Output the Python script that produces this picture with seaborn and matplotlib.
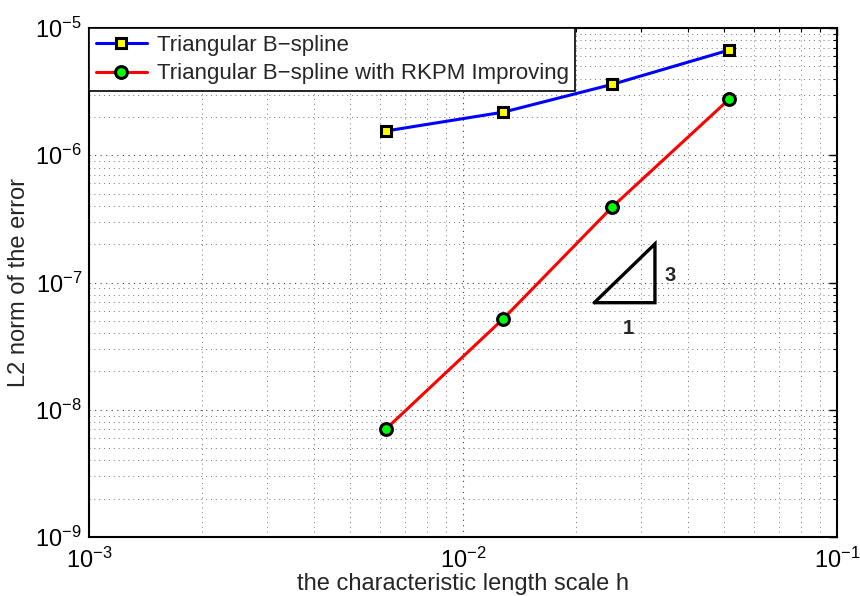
import matplotlib
matplotlib.use("Agg")
import matplotlib.pyplot as plt
import matplotlib.ticker as mticker
import seaborn as sns
import pandas as pd
import numpy as np

# ---- data ----
h = [0.00621, 0.0128, 0.0251, 0.0515]
err_bspline = [1.55e-6, 2.18e-6, 3.61e-6, 6.71e-6]
err_rkpm = [7.02e-9, 5.17e-8, 3.94e-7, 2.76e-6]
labels = ["Triangular B\u2212spline", "Triangular B\u2212spline with RKPM Improving"]
tri_x = [0.02244, 0.0326, 0.0326, 0.02244]
tri_y = [6.94e-8, 6.94e-8, 2.01e-7, 6.94e-8]
slope_text = ["3", "1"]
slope_pos_x = [0.0357, 0.0276]
slope_pos_y = [1.125e-7, 4.38e-8]

sns.set_style("white")
plt.rcParams["font.family"] = ["Liberation Sans", "DejaVu Sans"]
plt.rcParams["mathtext.fontset"] = "custom"
plt.rcParams["mathtext.rm"] = "Liberation Sans"
plt.rcParams["mathtext.it"] = "Liberation Sans:italic"

fig = plt.figure(figsize=(8.6, 5.96), dpi=100)
ax = fig.add_axes([89/860, 1-537/596, (837-89)/860, (537-28)/596])

df1 = pd.DataFrame({"h": h, "err": err_bspline})
df2 = pd.DataFrame({"h": h, "err": err_rkpm})
sns.lineplot(data=df1, x="h", y="err", ax=ax, color="#0000ff", lw=2.2,
             marker="s", markersize=7, markerfacecolor="#ffff00",
             markeredgecolor="k", markeredgewidth=2.2, label=labels[0])
sns.lineplot(data=df2, x="h", y="err", ax=ax, color="#ff0000", lw=2.2,
             marker="o", markersize=8.5, markerfacecolor="#00ff00",
             markeredgecolor="k", markeredgewidth=2.2, label=labels[1])

ax.plot(tri_x, tri_y, color="k", lw=2.4, solid_joinstyle="miter")
for t, xx, yy in zip(slope_text, slope_pos_x, slope_pos_y):
    ax.text(xx, yy, t, fontsize=14.5, fontweight="bold", ha="center", va="center")

ax.set_xscale("log")
ax.set_yscale("log")
ax.set_xlim(1e-3, 1e-1)
ax.set_ylim(1e-9, 1e-5)

def fmt(v, pos):
    e = int(np.round(np.log10(v)))
    return r"$\mathregular{10^{%d}}$" % e

ax.xaxis.set_major_locator(mticker.LogLocator(base=10, numticks=10))
ax.yaxis.set_major_locator(mticker.LogLocator(base=10, numticks=10))
ax.xaxis.set_minor_locator(mticker.LogLocator(base=10, subs=np.arange(2, 10), numticks=20))
ax.yaxis.set_minor_locator(mticker.LogLocator(base=10, subs=np.arange(2, 10), numticks=20))
ax.xaxis.set_major_formatter(mticker.FuncFormatter(fmt))
ax.yaxis.set_major_formatter(mticker.FuncFormatter(fmt))
ax.xaxis.set_minor_formatter(mticker.NullFormatter())
ax.yaxis.set_minor_formatter(mticker.NullFormatter())

ax.tick_params(which="both", direction="in", top=True, right=True, colors="k")
ax.tick_params(which="major", length=6, width=1, labelsize=17)
ax.tick_params(axis="x", which="major", pad=8)
ax.tick_params(axis="y", which="major", pad=5)
ax.tick_params(which="minor", length=3, width=0.8)

ax.grid(True, which="major", linestyle=(0, (1, 4)), color="0.25", lw=0.8)
ax.grid(True, which="minor", linestyle=(0, (1, 4)), color="0.45", lw=0.7)

for s in ax.spines.values():
    s.set_color("k")
    s.set_linewidth(1.5)
    s.set_visible(True)

ax.set_xlabel("the characteristic length scale h", fontsize=17, labelpad=0)
ax.set_ylabel("L2 norm of the error", fontsize=17, labelpad=4)

leg = ax.legend(loc="upper left", fontsize=16, frameon=True, fancybox=False,
                edgecolor="k", framealpha=1, borderaxespad=0.0,
                handlelength=2.3, borderpad=0.3, labelspacing=0.35,
                handletextpad=0.45)
leg.get_frame().set_linewidth(1.2)

fig.savefig("out.png", dpi=100)
